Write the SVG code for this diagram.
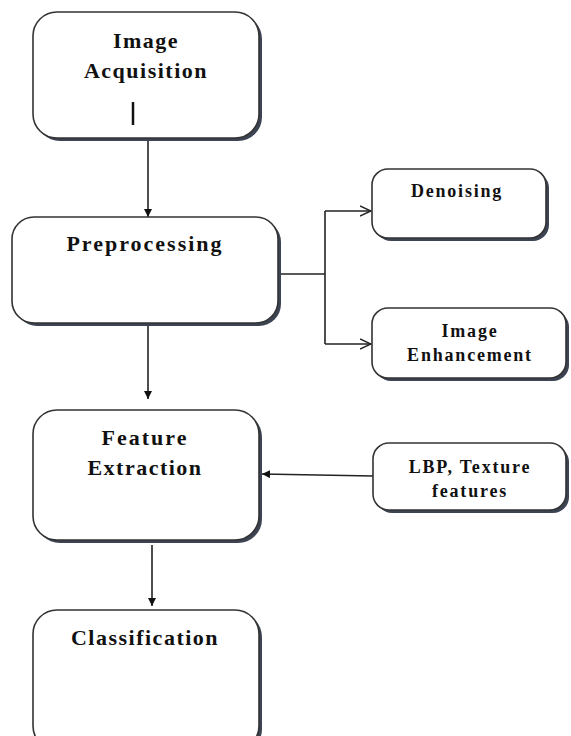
<svg xmlns="http://www.w3.org/2000/svg" width="571" height="736" viewBox="0 0 571 736">
<style>
.box{fill:#fff;stroke:#333;stroke-width:1.6}
.sh{fill:#3c4352}
.t{font-family:"Liberation Serif","Times New Roman",serif;font-weight:bold;fill:#111;text-anchor:middle}
.big{font-size:22px;letter-spacing:1.5px}
.sm{font-size:18px;letter-spacing:1.8px}
.ln{fill:none;stroke:#222;stroke-width:1.6}
</style>
<defs>
<marker id="fa" viewBox="0 0 10 10" refX="10" refY="5" markerWidth="8" markerHeight="8" markerUnits="userSpaceOnUse" orient="auto"><path d="M0,0 L10,5 L0,10 Z" fill="#111"/></marker>
<marker id="oa" viewBox="0 0 12 12" refX="11" refY="6" markerWidth="12" markerHeight="12" markerUnits="userSpaceOnUse" orient="auto"><path d="M0,1 L11,6 L0,11" fill="none" stroke="#222" stroke-width="1.4"/></marker>
</defs>
<rect width="571" height="736" fill="#fff"/>
<g id="connectors">
<path class="ln" d="M148,140 V217" marker-end="url(#fa)"/>
<path class="ln" d="M148,325 V399" marker-end="url(#fa)"/>
<path class="ln" d="M152,545 V606" marker-end="url(#fa)"/>
<path class="ln" d="M373,476 L262,474" marker-end="url(#fa)"/>
<path class="ln" d="M279,274 H325"/>
<path class="ln" d="M325,211 V344"/>
<path class="ln" d="M325,211 H371" marker-end="url(#oa)"/>
<path class="ln" d="M325,344 H371" marker-end="url(#oa)"/>
</g>
<g id="acq">
<rect class="sh" x="36" y="15" width="226" height="126" rx="24"/>
<rect class="box" x="33" y="12" width="226" height="126" rx="24"/>
<text class="t big" x="146" y="48">Image</text>
<text class="t big" x="146" y="78">Acquisition</text>
<line x1="133" y1="102" x2="133" y2="125" stroke="#111" stroke-width="2.5"/>
</g>
<g id="pre">
<rect class="sh" x="15" y="220" width="266" height="106" rx="22"/>
<rect class="box" x="12" y="217" width="266" height="106" rx="22"/>
<text class="t big" style="letter-spacing:2px" x="145" y="251">Preprocessing</text>
</g>
<g id="den">
<rect class="sh" x="375" y="172" width="174" height="69" rx="16"/>
<rect class="box" x="372" y="169" width="174" height="69" rx="16"/>
<text class="t sm" x="457" y="197">Denoising</text>
</g>
<g id="enh">
<rect class="sh" x="375" y="311" width="194" height="70" rx="16"/>
<rect class="box" x="372" y="308" width="194" height="70" rx="16"/>
<text class="t sm" x="470" y="337">Image</text>
<text class="t sm" x="470" y="361">Enhancement</text>
</g>
<g id="feat">
<rect class="sh" x="36" y="413" width="226" height="130" rx="24"/>
<rect class="box" x="33" y="410" width="226" height="130" rx="24"/>
<text class="t big" style="letter-spacing:2px" x="145" y="445">Feature</text>
<text class="t big" x="145" y="475">Extraction</text>
</g>
<g id="lbp">
<rect class="sh" x="376" y="446" width="193" height="67" rx="16"/>
<rect class="box" x="373" y="443" width="193" height="67" rx="16"/>
<text class="t sm" x="470" y="473">LBP, Texture</text>
<text class="t sm" x="470" y="497">features</text>
</g>
<g id="cls">
<rect class="sh" x="36" y="613" width="226" height="140" rx="24"/>
<rect class="box" x="33" y="610" width="226" height="140" rx="24"/>
<text class="t big" x="145" y="645">Classification</text>
</g>
</svg>
